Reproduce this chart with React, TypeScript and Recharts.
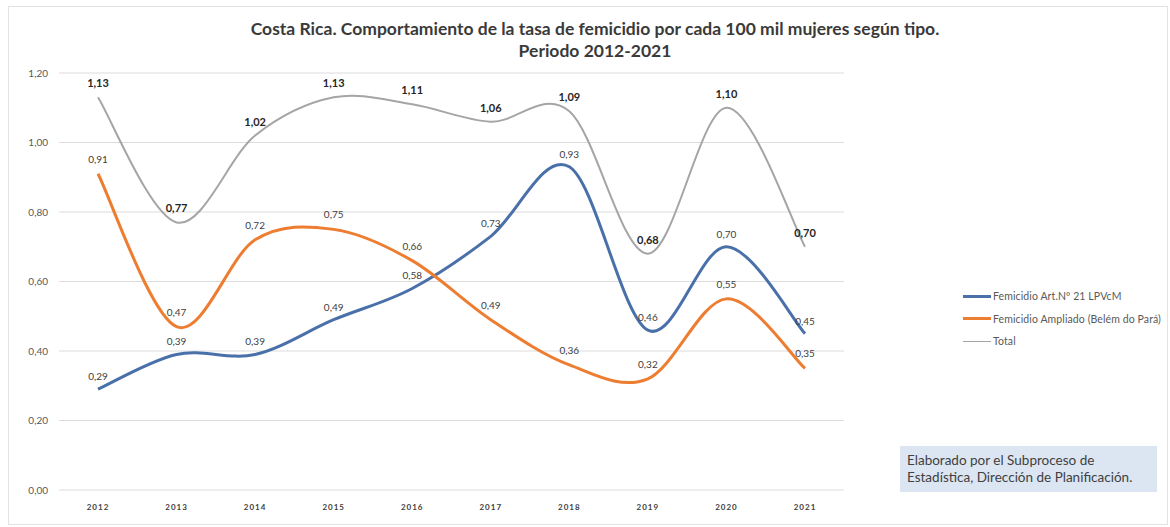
import React from 'react';
import { LineChart, Line, XAxis, YAxis, CartesianGrid, Legend } from 'recharts';

const years = ['2012', '2013', '2014', '2015', '2016', '2017', '2018', '2019', '2020', '2021'];
const art21 = [0.29, 0.39, 0.39, 0.49, 0.58, 0.73, 0.93, 0.46, 0.70, 0.45];
const ampliado = [0.91, 0.47, 0.72, 0.75, 0.66, 0.49, 0.36, 0.32, 0.55, 0.35];
const total = [1.13, 0.77, 1.02, 1.13, 1.11, 1.06, 1.09, 0.68, 1.10, 0.70];
const yTicks = [0, 0.2, 0.4, 0.6, 0.8, 1.0, 1.2];

const seriesNames = {
  art21: 'Femicidio Art.Nº 21 LPVcM',
  ampliado: 'Femicidio Ampliado (Belém do Pará)',
  total: 'Total',
};
const legendOrder = ['art21', 'ampliado', 'total'];

const data = years.map((y, i) => ({
  year: y,
  art21: art21[i],
  ampliado: ampliado[i],
  total: total[i],
}));

const fmt = (v: any) => Number(v).toFixed(2).replace('.', ',');

// Smooth curve similar to spreadsheet "smoothed line" (Catmull-Rom style)
const smoothCurve: any = (context: any) => {
  let pts: number[][] = [];
  return {
    areaStart() {},
    areaEnd() {},
    lineStart() {
      pts = [];
    },
    point(x: number, y: number) {
      pts.push([+x, +y]);
    },
    lineEnd() {
      if (!pts.length) return;
      context.moveTo(pts[0][0], pts[0][1]);
      for (let i = 0; i < pts.length - 1; i++) {
        const p0 = pts[i - 1] || pts[i];
        const p1 = pts[i];
        const p2 = pts[i + 1];
        const p3 = pts[i + 2] || pts[i + 1];
        const c1x = p1[0] + (p2[0] - p0[0]) / 6;
        const c1y = p1[1] + (p2[1] - p0[1]) / 6;
        const c2x = p2[0] - (p3[0] - p1[0]) / 6;
        const c2y = p2[1] - (p3[1] - p1[1]) / 6;
        context.bezierCurveTo(c1x, c1y, c2x, c2y, p2[0], p2[1]);
      }
    },
  };
};

const FONT = 'Lato, "Open Sans", sans-serif';

const makeLabel = (offset: number, bold: boolean) => (p: any) => {
  if (p.x == null || p.y == null) return null;
  return (
    <text
      key={`l-${p.index}`}
      x={p.x}
      y={p.y - offset}
      textAnchor="middle"
      fontSize={bold ? 11 : 10}
      fontWeight={bold ? 700 : 400}
      fill={bold ? '#262626' : '#404040'}
      fontFamily={FONT}
    >
      {fmt(p.value)}
    </text>
  );
};

const renderLegend = (props: any) => {
  const payload = [...(props.payload || [])].sort(
    (a: any, b: any) => legendOrder.indexOf(a.dataKey) - legendOrder.indexOf(b.dataKey)
  );
  return (
    <div style={{ fontFamily: FONT, fontSize: 10.5, letterSpacing: 0.1, color: '#595959', whiteSpace: 'nowrap' }}>
      {payload.map((p: any) => (
        <div key={p.value} style={{ display: 'flex', alignItems: 'center', height: 22.5 }}>
          <div
            style={{
              width: 28,
              height: p.dataKey === 'total' ? 1 : 3,
              background: p.color,
              marginRight: 2,
            }}
          />
          <span>{p.value}</span>
        </div>
      ))}
    </div>
  );
};

export default function App() {
  return (
    <div
      style={{
        position: 'absolute',
        left: 0,
        top: 0,
        width: 1170,
        height: 527,
        background: '#fff',
        fontFamily: FONT,
      }}
    >
      <div
        style={{
          position: 'absolute',
          left: 8,
          top: 6,
          width: 1160,
          height: 519,
          border: '1px solid #e3e3e3',
          boxSizing: 'border-box',
        }}
      />
      <div
        style={{
          position: 'absolute',
          left: 0,
          top: 18,
          width: 1190,
          textAlign: 'center',
          fontSize: 17.5,
          fontWeight: 700,
          color: '#3a3a3a',
          lineHeight: '22px',
        }}
      >
        Costa Rica. Comportamiento de la tasa de femicidio por cada 100 mil mujeres según tipo.
        <br />
        Periodo 2012-2021
      </div>
      <div style={{ position: 'absolute', left: 0, top: 0 }}>
        <LineChart width={1170} height={527} data={data} margin={{ top: 73, right: 116, bottom: 7, left: 19 }}>
          <CartesianGrid vertical={false} stroke="#dcdcdc" />
          <XAxis
            dataKey="year"
            axisLine={false}
            tickLine={false}
            height={30}
            padding={{ left: 39, right: 39 }}
            tick={{ fontSize: 8, fill: '#404040', fontWeight: 700, fontFamily: FONT, letterSpacing: 1 }}
            dy={6}
          />
          <YAxis
            domain={[0, 1.2]}
            ticks={yTicks}
            tickFormatter={fmt}
            axisLine={false}
            tickLine={false}
            width={40}
            tick={{ fontSize: 10, fill: '#595959', fontFamily: FONT }}
            dx={-3}
          />
          <Legend
            layout="vertical"
            align="right"
            verticalAlign="top"
            content={renderLegend}
            wrapperStyle={{ left: 963, top: 285, width: 210 }}
          />
          <Line
            dataKey="art21"
            name={seriesNames.art21}
            type={smoothCurve}
            stroke="#4A70AA"
            strokeWidth={3}
            dot={false}
            isAnimationActive={false}
            label={makeLabel(9, false)}
          />
          <Line
            dataKey="ampliado"
            name={seriesNames.ampliado}
            type={smoothCurve}
            stroke="#ED7D31"
            strokeWidth={3}
            dot={false}
            isAnimationActive={false}
            label={makeLabel(11, false)}
          />
          <Line
            dataKey="total"
            name={seriesNames.total}
            type={smoothCurve}
            stroke="#A5A5A5"
            strokeWidth={2}
            dot={false}
            isAnimationActive={false}
            label={makeLabel(10, true)}
          />
        </LineChart>
      </div>
      <div
        style={{
          position: 'absolute',
          left: 900,
          top: 446,
          width: 257,
          height: 46,
          background: '#dce6f2',
          color: '#404040',
          fontSize: 13.5,
          lineHeight: '17px',
          padding: '6px 0 0 7px',
          boxSizing: 'border-box',
          whiteSpace: 'nowrap',
        }}
      >
        Elaborado por el Subproceso de
        <br />
        Estadística, Dirección de Planificación.
      </div>
    </div>
  );
}
